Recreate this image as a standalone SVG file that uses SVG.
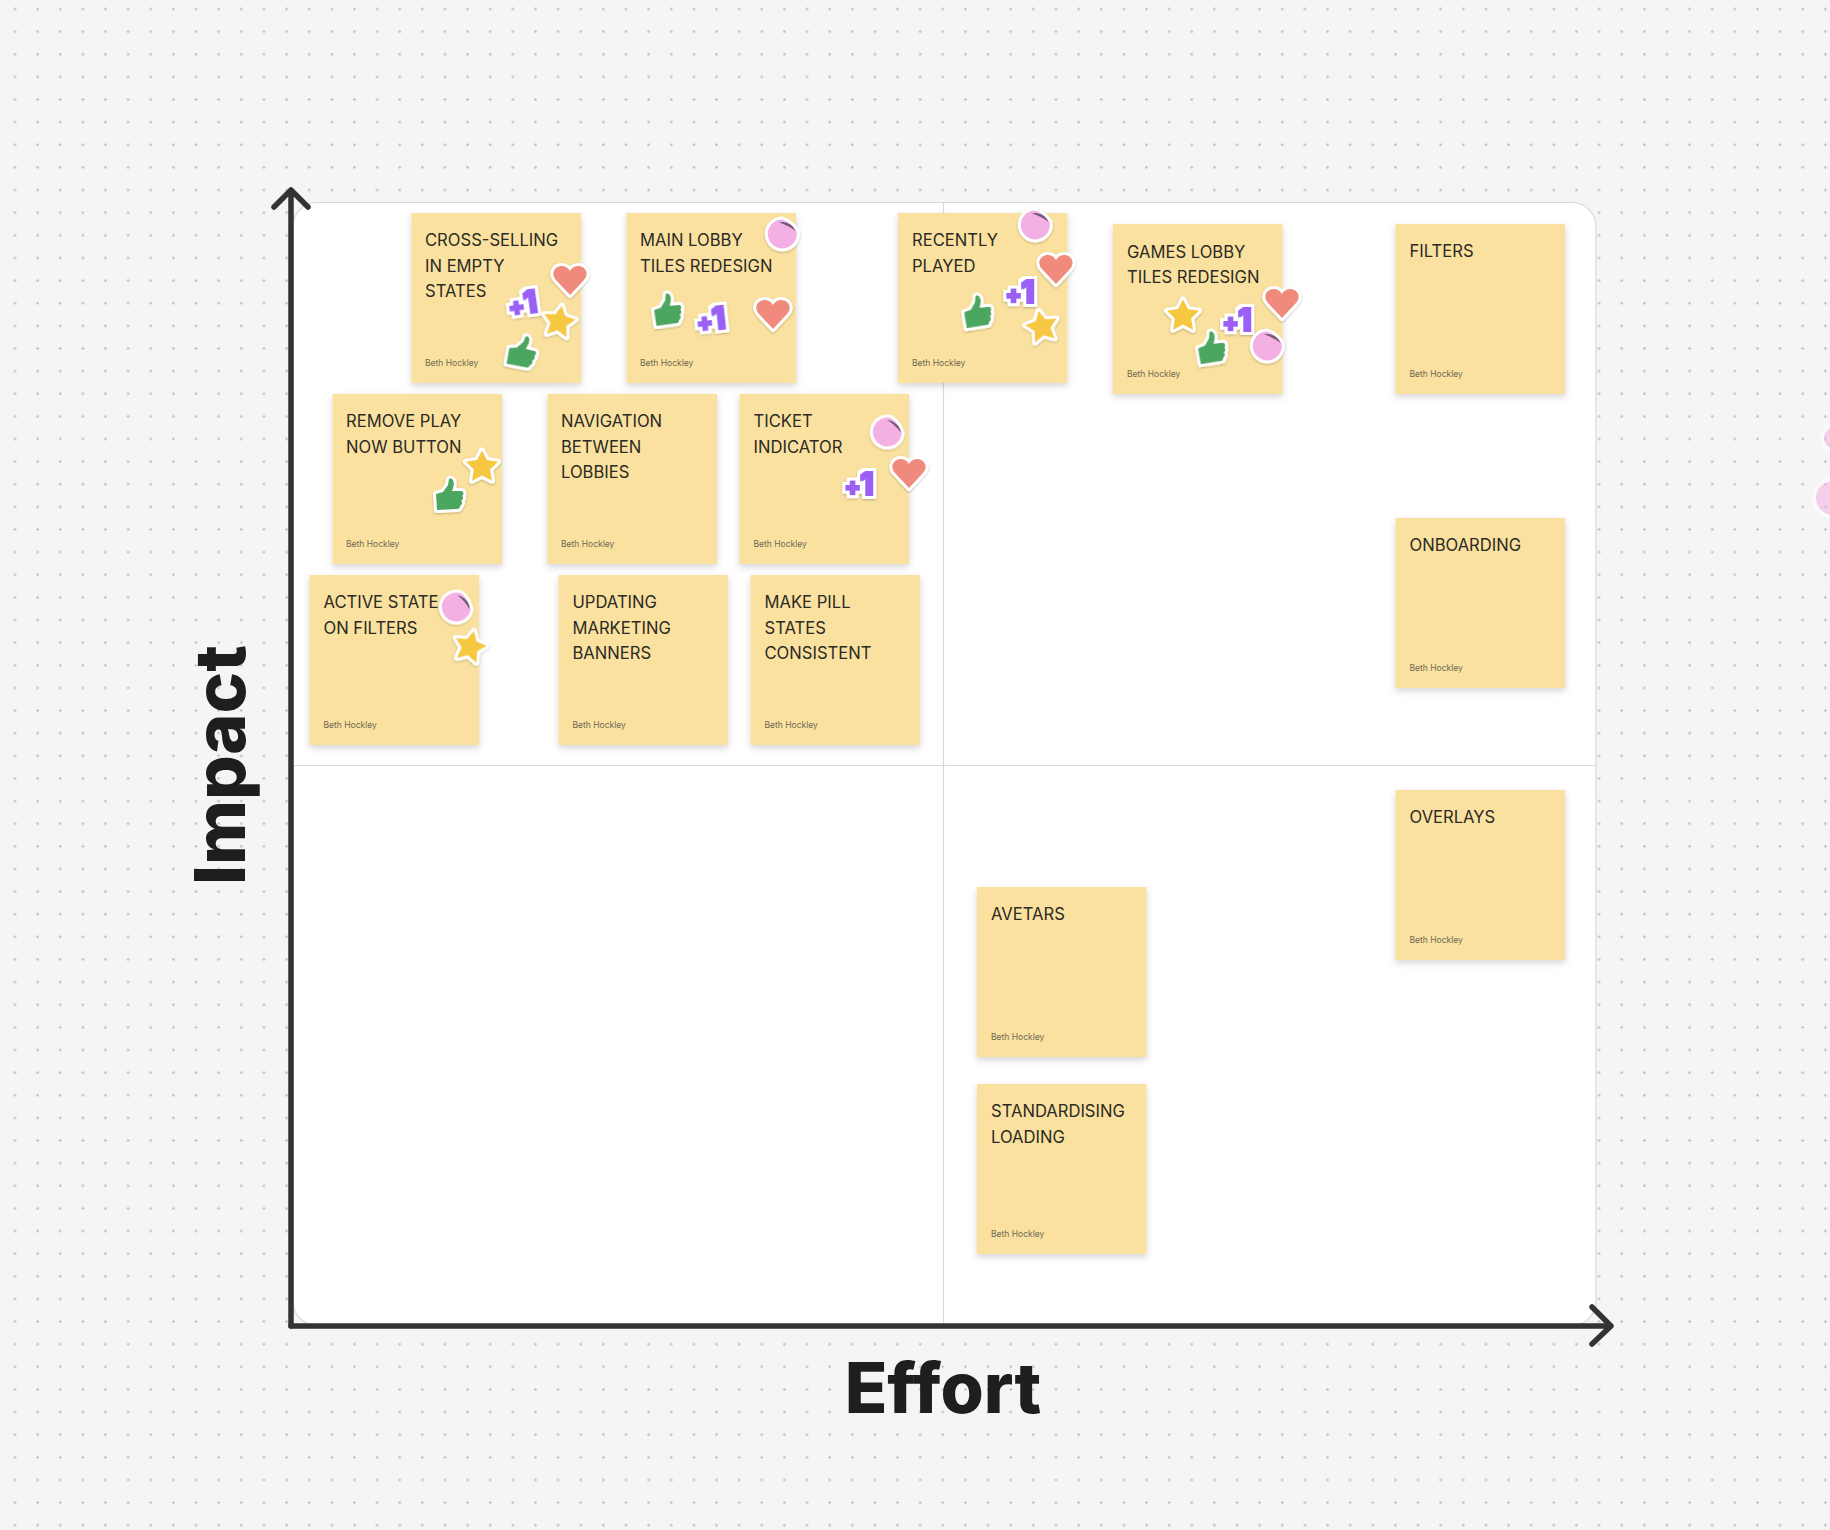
<svg xmlns="http://www.w3.org/2000/svg" width="1830" height="1530" viewBox="0 0 1830 1530">
<style>
.note{fill:#fae19f;filter:url(#ns)}
.t{font-family:Inter,"Liberation Sans",sans-serif;font-size:16.6px;fill:#2b2a24}
.a{font-family:Inter,"Liberation Sans",sans-serif;font-size:8.5px;fill:#6f6a55}
.ax{font-family:Inter,"Liberation Sans",sans-serif;font-size:70px;font-weight:800;fill:#1e1e1e}
.s{stroke:#fff;stroke-width:6;stroke-linejoin:round;paint-order:stroke;filter:url(#ss)}
.h{fill:#f08a7b}.st{fill:#f6c73f}.th{fill:#4ca661}.pi{fill:#f4b0e2}
.one{font-family:Inter,"Liberation Sans",sans-serif;font-weight:900;fill:#9b5ff5;text-anchor:middle;filter:url(#fat)}
.axis{fill:none;stroke:#333;stroke-width:5.5;stroke-linecap:round;stroke-linejoin:round}
.q{stroke:#d9d9d9;stroke-width:1.2;fill:none}
</style>
<defs>
<pattern id="dots" x="3.7" y="-2.3" width="22.63" height="22.63" patternUnits="userSpaceOnUse"><circle cx="11.3" cy="11.3" r="1.3" fill="#bdbdbd"/></pattern>
<filter id="ns" x="-10%" y="-10%" width="120%" height="125%"><feDropShadow dx="0" dy="3" stdDeviation="3.5" flood-color="#000" flood-opacity=".17"/></filter>
<filter id="ss" x="-30%" y="-30%" width="160%" height="160%"><feDropShadow dx="0" dy="1" stdDeviation="1.2" flood-color="#000" flood-opacity=".25"/></filter>
<filter id="fat" x="-40%" y="-40%" width="180%" height="180%">
<feMorphology in="SourceAlpha" operator="dilate" radius="0.9" result="d1"/>
<feFlood flood-color="#9b5ff5"/><feComposite in2="d1" operator="in" result="purple"/>
<feMorphology in="SourceAlpha" operator="dilate" radius="3.6" result="d2"/>
<feFlood flood-color="#fff"/><feComposite in2="d2" operator="in" result="white"/>
<feDropShadow in="white" dx="0" dy="1" stdDeviation="1.2" flood-color="#000" flood-opacity=".25" result="ws"/>
<feMerge><feMergeNode in="ws"/><feMergeNode in="purple"/></feMerge>
</filter>
<path id="heart" class="s h" d="M0 15L-14 0C-20-7-15-14-8-14C-4-14-1-11 0-9C1-11 4-14 8-14C15-14 20-7 14 0Z"/>
<path id="star" class="s st" d="M0-16.5L5-6.9L16-5.3L8.1 2.6L10 13.8L0 8.5L-10 13.8L-8.1 2.6L-16-5.3L-5-6.9Z"/>
<path id="thumb" class="s th" d="M-13 0L-6-2L-1-9L0-15C4-17 6-11 4-6L3-3L12-3C15-3 15 1 13 2C15 3 14 6 12 7C14 8 13 11 11 12C11 14 10 15 8 15L-12 16Z"/>
<g id="pie"><path class="s pi" d="M0-14.500Q9-11.500 14.500-3A14.500 14.500 0 1 1 0-14.500Z"/><path fill="#6f5a78" d="M-3-11.500Q6-9 13.500-3Q11-9 5-11Q1-12.500-3-11.500Z"/></g>
</defs>
<rect width="1830" height="1530" fill="#f5f5f5"/>
<rect width="1830" height="1530" fill="url(#dots)"/>
<g id="edge-stickers" opacity=".55"><circle cx="1835" cy="438" r="13" fill="#f4b0e2" stroke="#fff" stroke-width="4"/><circle cx="1833" cy="498" r="19" fill="#f4b0e2" stroke="#fff" stroke-width="4"/></g>
<g id="board"><rect x="293" y="202.500" width="1303" height="1123" rx="24" fill="#fff" stroke="#d9d9d9" stroke-width="1.200"/><path class="q" d="M943.500 203V1325M293 765.500H1596"/></g>
<g id="connectors"><path id="y-axis" class="axis" d="M291 1326V190M274 207L291 190L308 207"/><path id="x-axis" class="axis" d="M291 1326H1610M1592 1307L1611 1326L1592 1344"/></g>
<g id="label-effort"><text class="ax" x="943" y="1413" text-anchor="middle">Effort</text></g>
<g id="label-impact"><text class="ax" transform="translate(245 765) rotate(-90)" text-anchor="middle">Impact</text></g>

<g id="n-cross"><rect class="note" x="411.500" y="213" width="169.500" height="170"/><text class="t" x="425" y="246">CROSS-SELLING</text><text class="t" x="425" y="271.500">IN EMPTY</text><text class="t" x="425" y="297">STATES</text><text class="a" x="425" y="366">Beth Hockley</text>
<use href="#heart" x="570" y="280"/><text class="one" transform="translate(524 314) rotate(-8)"><tspan font-size="24">+</tspan><tspan font-size="31" dx="-1">1</tspan></text><use href="#star" transform="translate(559 322) rotate(10)"/><use href="#thumb" transform="translate(522 351) rotate(14)"/></g>
<g id="n-main"><rect class="note" x="626.500" y="213" width="169.500" height="170"/><text class="t" x="640" y="246">MAIN LOBBY</text><text class="t" x="640" y="271.500">TILES REDESIGN</text><text class="a" x="640" y="366">Beth Hockley</text>
<use href="#pie" x="782" y="234"/><use href="#thumb" transform="translate(667 309) rotate(-5)"/><text class="one" transform="translate(712 330) rotate(-6)"><tspan font-size="24">+</tspan><tspan font-size="31" dx="-1">1</tspan></text><use href="#heart" x="773" y="314"/></g>
<g id="n-recent"><rect class="note" x="898" y="213" width="169.500" height="170"/><text class="t" x="912" y="246">RECENTLY</text><text class="t" x="912" y="271.500">PLAYED</text><text class="a" x="912" y="366">Beth Hockley</text>
<use href="#pie" x="1035" y="225"/><use href="#heart" x="1056" y="269"/><text class="one" transform="translate(1020 303)"><tspan font-size="24">+</tspan><tspan font-size="31" dx="-1">1</tspan></text><use href="#thumb" transform="translate(977 311) rotate(-6)"/><use href="#star" transform="translate(1042 327) rotate(-12)"/></g>
<g id="n-games"><rect class="note" x="1113" y="224" width="169.500" height="170"/><text class="t" x="1127" y="257.500">GAMES LOBBY</text><text class="t" x="1127" y="283">TILES REDESIGN</text><text class="a" x="1127" y="377">Beth Hockley</text>
<use href="#heart" x="1282" y="303"/><use href="#star" x="1183" y="316"/><text class="one" transform="translate(1237 331)"><tspan font-size="24">+</tspan><tspan font-size="31" dx="-1">1</tspan></text><use href="#thumb" transform="translate(1211 347) rotate(-6)"/><use href="#pie" x="1267" y="346"/></g>
<g id="n-filters"><rect class="note" x="1395.500" y="224" width="169.500" height="170"/><text class="t" x="1409.500" y="257">FILTERS</text><text class="a" x="1409.500" y="377">Beth Hockley</text></g>
<g id="n-remove"><rect class="note" x="332.500" y="394" width="169.500" height="170"/><text class="t" x="346" y="427">REMOVE PLAY</text><text class="t" x="346" y="452.500">NOW BUTTON</text><text class="a" x="346" y="547">Beth Hockley</text>
<use href="#star" x="482" y="467"/><use href="#thumb" x="449" y="494"/></g>
<g id="n-nav"><rect class="note" x="547.500" y="394" width="169.500" height="170"/><text class="t" x="561" y="427">NAVIGATION</text><text class="t" x="561" y="452.500">BETWEEN</text><text class="t" x="561" y="478">LOBBIES</text><text class="a" x="561" y="547">Beth Hockley</text></g>
<g id="n-ticket"><rect class="note" x="739.500" y="394" width="169.500" height="170"/><text class="t" x="753.500" y="427">TICKET</text><text class="t" x="753.500" y="452.500">INDICATOR</text><text class="a" x="753.500" y="547">Beth Hockley</text>
<use href="#pie" transform="translate(887 432) rotate(15)"/><use href="#heart" x="909" y="473"/><text class="one" transform="translate(859 495)"><tspan font-size="24">+</tspan><tspan font-size="31" dx="-1">1</tspan></text></g>
<g id="n-active"><rect class="note" x="309.500" y="575" width="169.500" height="170"/><text class="t" x="323.500" y="608">ACTIVE STATE</text><text class="t" x="323.500" y="633.500">ON FILTERS</text><text class="a" x="323.500" y="728">Beth Hockley</text>
<use href="#pie" transform="translate(456 607) rotate(22)"/><use href="#star" transform="translate(470 647) rotate(14)"/></g>
<g id="n-updating"><rect class="note" x="558.500" y="575" width="169.500" height="170"/><text class="t" x="572.500" y="608">UPDATING</text><text class="t" x="572.500" y="633.500">MARKETING</text><text class="t" x="572.500" y="659">BANNERS</text><text class="a" x="572.500" y="728">Beth Hockley</text></g>
<g id="n-pill"><rect class="note" x="750.500" y="575" width="169.500" height="170"/><text class="t" x="764.500" y="608">MAKE PILL</text><text class="t" x="764.500" y="633.500">STATES</text><text class="t" x="764.500" y="659">CONSISTENT</text><text class="a" x="764.500" y="728">Beth Hockley</text></g>
<g id="n-onboarding"><rect class="note" x="1395.500" y="518" width="169.500" height="170"/><text class="t" x="1409.500" y="551">ONBOARDING</text><text class="a" x="1409.500" y="671">Beth Hockley</text></g>
<g id="n-overlays"><rect class="note" x="1395.500" y="790" width="169.500" height="170"/><text class="t" x="1409.500" y="823">OVERLAYS</text><text class="a" x="1409.500" y="943">Beth Hockley</text></g>
<g id="n-avetars"><rect class="note" x="977" y="887" width="169.500" height="170"/><text class="t" x="991" y="920">AVETARS</text><text class="a" x="991" y="1040">Beth Hockley</text></g>
<g id="n-standard"><rect class="note" x="977" y="1084" width="169.500" height="170"/><text class="t" x="991" y="1117">STANDARDISING</text><text class="t" x="991" y="1142.500">LOADING</text><text class="a" x="991" y="1237">Beth Hockley</text></g>
</svg>
